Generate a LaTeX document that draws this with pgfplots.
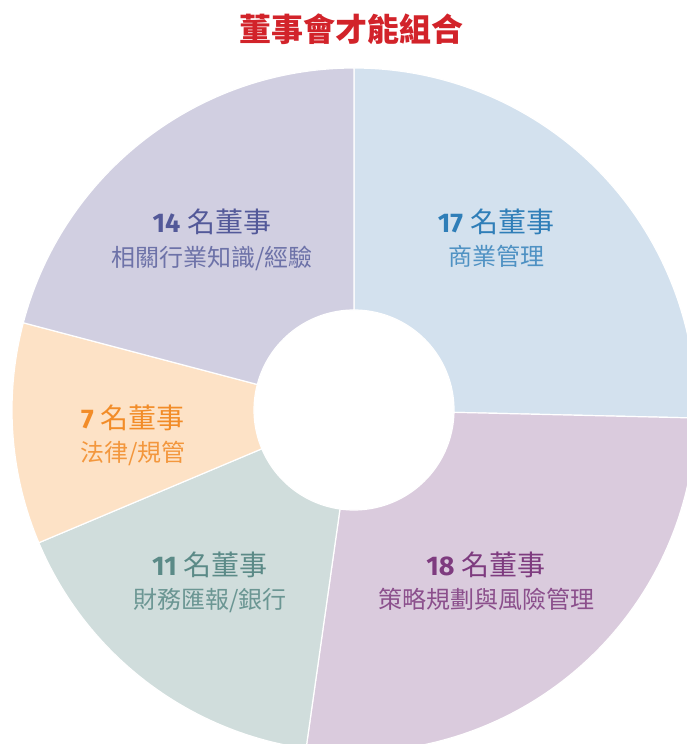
\documentclass[border=0pt]{standalone}
\usepackage{pgfplots}
\pgfplotsset{compat=1.18}
\usepackage{fontspec}
\newfontfamily\cjk{Noto Sans CJK TC}
\newfontfamily\numfont{Fira Sans}[Numbers=Lining]
\definecolor{cA}{HTML}{D3E1EE}
\definecolor{cB}{HTML}{DACBDD}
\definecolor{cC}{HTML}{D0DDDC}
\definecolor{cD}{HTML}{FDE2C6}
\definecolor{cE}{HTML}{D1CFE1}
\definecolor{tA}{HTML}{2F7EB8}
\definecolor{tB}{HTML}{7E3B7F}
\definecolor{tC}{HTML}{5B8A87}
\definecolor{tD}{HTML}{F28C28}
\definecolor{tE}{HTML}{535999}
\definecolor{title}{HTML}{D2232A}
% values (number of directors)
\def\vA{17}\def\vB{18}\def\vC{11}\def\vD{7}\def\vE{14}
\pgfmathsetmacro\tot{\vA+\vB+\vC+\vD+\vE}%
\pgfmathsetmacro\aO{90}%
\pgfmathsetmacro\aA{\aO-360*\vA/\tot}%
\pgfmathsetmacro\aB{\aA-360*\vB/\tot}%
\pgfmathsetmacro\aC{\aB-360*\vC/\tot}%
\pgfmathsetmacro\aD{\aC-360*\vD/\tot}%
\pgfmathsetmacro\aE{\aD-360*\vE/\tot}%
\newcommand\donutwedge[3]{%
  \fill[#3, draw=white, line width=1.2pt]
    (axis cs:{354+100*cos(#1)},{334+100*sin(#1)}) --
    (axis cs:{354+342*cos(#1)},{334+342*sin(#1)})
    arc[start angle=#1, end angle=#2, radius=342pt] --
    (axis cs:{354+100*cos(#2)},{334+100*sin(#2)})
    arc[start angle=#2, end angle=#1, radius=100pt] -- cycle;}
\newcommand\lab[7]{% x, y1, y2, colour, number, line2, second colour
  \node[anchor=base, text=#4, inner sep=0pt] at (axis cs:#1,{744-#2})
    {{\numfont\bfseries\fontsize{27}{29}\selectfont #5}\hspace{7pt}{\cjk\fontsize{28}{30}\selectfont 名董事}};
  \node[anchor=base, text=#7, inner sep=0pt] at (axis cs:#1,{744-#3})
    {\cjk\fontsize{24}{26}\selectfont #6};}
\begin{document}%
\begin{tikzpicture}
\begin{axis}[at={(0,0)}, anchor=south west, x=1pt, y=1pt,
  xmin=0, xmax=687, ymin=0, ymax=744, hide axis, clip=true]
\addplot[draw=none] coordinates {(0,0) (687,744)};
\donutwedge{\aO}{\aA}{cA}
\donutwedge{\aA}{\aB}{cB}
\donutwedge{\aB}{\aC}{cC}
\donutwedge{\aC}{\aD}{cD}
\donutwedge{\aD}{\aE}{cE}
\lab{496}{233}{266}{tA}{17}{商業管理}{tA!85!white}
\lab{212}{233}{267}{tE}{14}{相關行業知識/經驗}{tE!85!white}
\lab{133}{429}{462}{tD}{7}{法律/規管}{tD!90!white}
\lab{210}{576}{609}{tC}{11}{財務匯報/銀行}{tC!90!white}
\lab{486}{576}{609}{tB}{18}{策略規劃與風險管理}{tB!90!white}
\node[anchor=base, text=title, inner sep=0pt] at (axis cs:351,{744-42})
  {\cjk\bfseries\fontsize{32}{34}\selectfont 董事會才能組合};
\end{axis}
\pgfresetboundingbox
\path (0,0) rectangle (687pt,744pt);
\end{tikzpicture}%
\end{document}
